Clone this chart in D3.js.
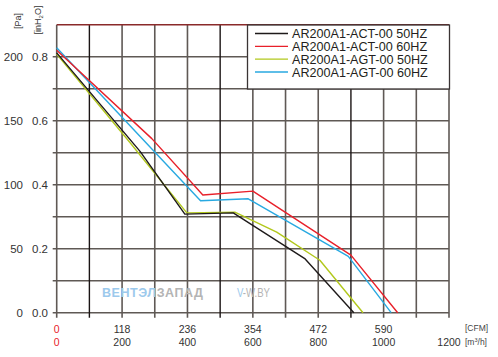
<!DOCTYPE html>
<html><head><meta charset="utf-8">
<script src="https://cdn.jsdelivr.net/npm/d3@7"></script>
<style>
html,body{margin:0;padding:0;background:#fff;}
svg{display:block;font-family:"Liberation Sans",Arial,Helvetica,sans-serif;}
</style></head>
<body><svg id="chart" width="498" height="357"></svg>
<script>
// ---- data ----
const seriesNames = ["AR200A1-ACT-00 50HZ","AR200A1-ACT-00 60HZ","AR200A1-AGT-00 50HZ","AR200A1-AGT-00 60HZ"];
const seriesColors = ["#1e1a1a","#e8202a","#b2c81c","#28a9e1"];
const flowACT50 = [0, 255, 392, 540, 760, 909];
const presACT50 = [203, 126, 77, 78, 42, 0];
const flowACT60 = [0, 291, 447, 600, 900, 1043];
const presACT60 = [205, 136, 92, 95, 45, 0];
const flowAGT50 = [0, 224, 398, 545, 673, 805, 937];
const presAGT50 = [202, 133, 78, 78.5, 63, 41, 0];
const flowAGT60 = [0, 440, 586, 892, 1023];
const presAGT60 = [207, 87.5, 89, 44, 0];
const xTicksM3h = [0, 200, 400, 600, 800, 1000, 1200];
const xLabelsM3h = ["0","200","400","600","800","1000","1200"];
const xLabelsCFM = ["0","118","236","354","472","590",""];
const yTicksPa = [0, 50, 100, 150, 200];
const yLabelsPa = ["0","50","100","150","200"];
const yLabelsInH2O = ["0.0","0.2","0.4","0.6","0.8"];
const xGrid = d3.range(0, 1201, 100);
const yGrid = d3.range(0, 226, 25);
const darkGridAt = [100, 500, 900];

const series = [
  {name: seriesNames[0], color: seriesColors[0], x: flowACT50, y: presACT50},
  {name: seriesNames[1], color: seriesColors[1], x: flowACT60, y: presACT60},
  {name: seriesNames[2], color: seriesColors[2], x: flowAGT50, y: presAGT50},
  {name: seriesNames[3], color: seriesColors[3], x: flowAGT60, y: presAGT60}
];
const drawOrder = [2, 0, 3, 1];

// ---- layout ----
const svg = d3.select("#chart");
const x = d3.scaleLinear().domain([0, 1200]).range([56.7, 449]);
const y = d3.scaleLinear().domain([0, 225]).range([312.7, 24.7]);
const gray = "#5f5955";

// horizontal grid
svg.append("g").selectAll("line").data(yGrid.filter(v => v < 225)).join("line")
  .attr("x1", x(0) - 4).attr("x2", x(1200))
  .attr("y1", d => y(d)).attr("y2", d => y(d))
  .attr("stroke", gray).attr("stroke-width", 1.6);

// vertical grid
svg.append("g").selectAll("line").data(xGrid).join("line")
  .attr("x1", d => x(d)).attr("x2", d => x(d))
  .attr("y1", y(225)).attr("y2", y(0) + 5)
  .attr("stroke", d => darkGridAt.includes(d) ? "#1a1414" : gray)
  .attr("stroke-width", d => darkGridAt.includes(d) ? 1.4 : 1.6);

// top border
svg.append("line").attr("x1", x(0)).attr("x2", x(1200))
  .attr("y1", y(225)).attr("y2", y(225))
  .attr("stroke", "#8a2a2a").attr("stroke-width", 1.6);

// watermark
const wm = svg.append("text").attr("x", 102).attr("y", 296.7)
  .attr("font-size", 12.5).attr("font-weight", "bold")
  .attr("textLength", 101).attr("lengthAdjust", "spacing");
wm.append("tspan").attr("fill", "#9cc9ec").text("ВЕНТЭЛ");
wm.append("tspan").attr("fill", "#b4b4b4").text("ЗАПАД");
const wm2 = svg.append("text").attr("x", 237).attr("y", 296.7)
  .attr("font-size", 12).attr("textLength", 33).attr("lengthAdjust", "spacingAndGlyphs");
wm2.append("tspan").attr("fill", "#9cc9ec").text("V");
wm2.append("tspan").attr("fill", "#b4b4b4").text("-W.BY");

// curves
const line = d3.line().x(d => x(d[0])).y(d => y(d[1]));
svg.append("g").selectAll("path").data(drawOrder.map(i => series[i])).join("path")
  .attr("d", s => line(s.x.map((v, i) => [v, s.y[i]])))
  .attr("fill", "none").attr("stroke", s => s.color).attr("stroke-width", 1.4)
  .attr("stroke-linejoin", "round");

// y labels
const yl = svg.append("g").attr("font-size", 11.5).attr("fill", "#333");
yl.selectAll("text.pa").data(yTicksPa).join("text").attr("class", "pa")
  .attr("x", 23).attr("y", d => y(d) + 4.5).attr("text-anchor", "end")
  .text((d, i) => yLabelsPa[i]);
yl.selectAll("text.in").data(yTicksPa).join("text").attr("class", "in")
  .attr("x", 48).attr("y", d => y(d) + 4.5).attr("text-anchor", "end")
  .text((d, i) => yLabelsInH2O[i]);

// unit labels on y
svg.append("text").attr("transform", "translate(21,21) rotate(-90)")
  .attr("text-anchor", "middle").attr("font-size", 9).attr("fill", "#333").text("[Pa]");
const inl = svg.append("text").attr("transform", "translate(41,20) rotate(-90)")
  .attr("text-anchor", "middle").attr("font-size", 9).attr("fill", "#333");
inl.append("tspan").text("[inH");
inl.append("tspan").attr("font-size", 6).attr("dy", 2).text("2");
inl.append("tspan").attr("dy", -2).text("O]");

// x labels
const xl = svg.append("g").attr("font-size", 10.5).attr("text-anchor", "middle");
xl.selectAll("text.cfm").data(xTicksM3h).join("text").attr("class", "cfm")
  .attr("x", d => x(d)).attr("y", 332.5)
  .attr("fill", d => d === 0 ? "#e8202a" : "#333")
  .text((d, i) => xLabelsCFM[i]);
xl.selectAll("text.m3").data(xTicksM3h).join("text").attr("class", "m3")
  .attr("x", d => x(d)).attr("y", 346)
  .attr("fill", d => d === 0 ? "#e8202a" : "#333")
  .text((d, i) => xLabelsM3h[i]);
svg.append("text").attr("x", 465).attr("y", 331).attr("font-size", 8.5).attr("fill", "#444").text("[CFM]");
const m3 = svg.append("text").attr("x", 465).attr("y", 345).attr("font-size", 8.5).attr("fill", "#444");
m3.append("tspan").text("[m");
m3.append("tspan").attr("font-size", 5.5).attr("dy", -3).text("3");
m3.append("tspan").attr("dy", 3).text("/h]");

// legend
const lg = svg.append("g");
lg.append("rect").attr("x", 247.5).attr("y", 25).attr("width", 202).attr("height", 64)
  .attr("fill", "#fff").attr("stroke", "#3a3434").attr("stroke-width", 1.3);
const rowY = d3.scalePoint().domain(d3.range(4)).range([33.5, 72]);
series.forEach((s, i) => {
  lg.append("line").attr("x1", 255).attr("x2", 288)
    .attr("y1", rowY(i)).attr("y2", rowY(i))
    .attr("stroke", s.color).attr("stroke-width", 1.4);
  lg.append("text").attr("x", 292).attr("y", rowY(i) + 4.5)
    .attr("font-size", 12.6).attr("textLength", s.name.length > 0 ? null : null)
    .attr("fill", "#231f20").text(s.name);
});
</script></body></html>
